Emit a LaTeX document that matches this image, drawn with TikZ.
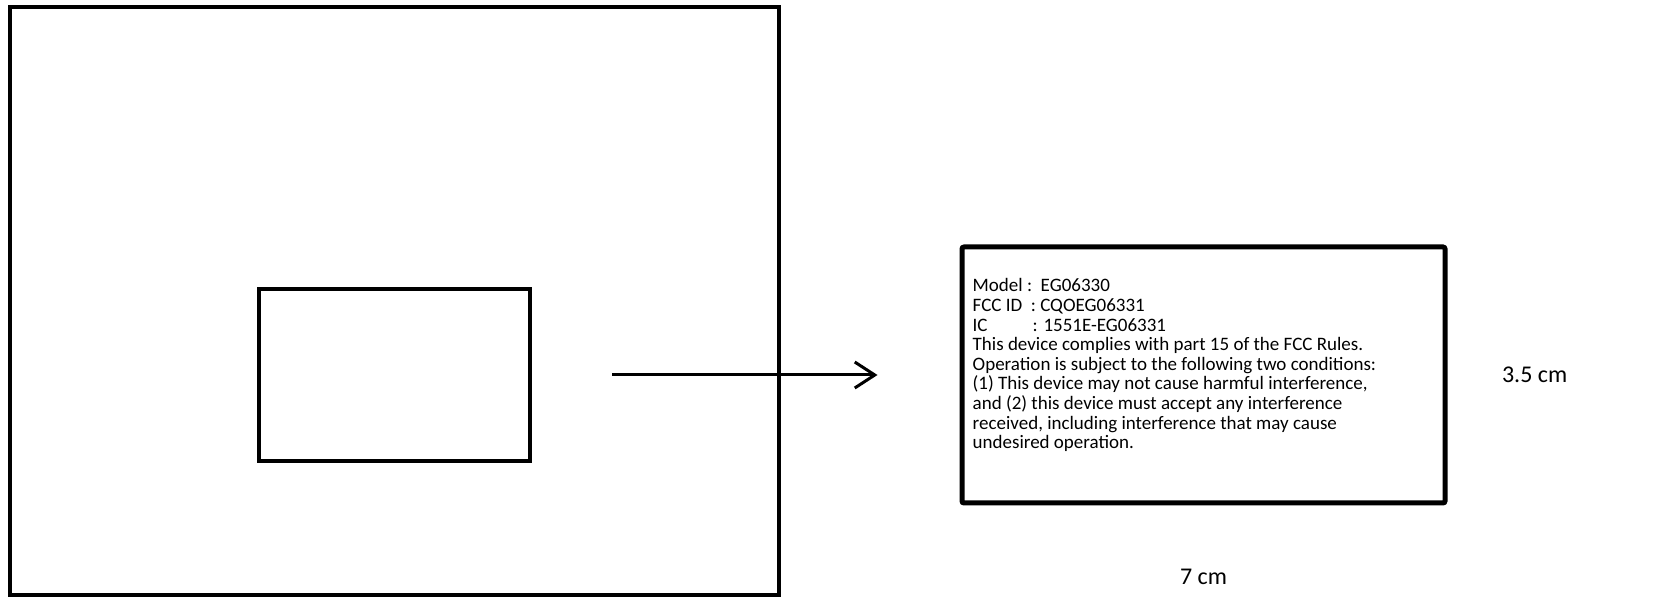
\documentclass[tikz,border=0pt]{standalone}
\usepackage{fontspec}
\setmainfont{Carlito}
\usetikzlibrary{positioning, arrows.meta}

\tikzset{
  outline/.style={draw=black, line width=4.5pt, inner sep=0pt},
  tagbox/.style={draw=black, line width=5pt, rounded corners=2pt, inner sep=0pt,
    minimum width=483pt, minimum height=256pt},
  dimtext/.style={font=\fontsize{24}{28}\selectfont},
}

\begin{document}
\begin{tikzpicture}[x=1pt,y=1pt]
  \useasboundingbox (0,0) rectangle (1660,597);

  % device and the spot where the label goes
  \node (device) [outline, minimum width=769pt, minimum height=588pt] at (394.5,296) {};
  \node (spot) [outline, line width=4pt, minimum width=271pt, minimum height=172pt] at (394.5,222) {};

  % the label, enlarged
  \node (tag) [tagbox] at (1203.5,222) {};
  \node (tagtext) [anchor=north west, align=left, inner sep=0pt,
    font=\fontsize{19}{19.6}\selectfont] at ([shift={(13pt,-34pt)}]tag.north west)
    {Model :\ \ EG06330\\
     FCC ID\ \ : CQOEG06331\\
     \makebox[60pt][l]{IC}: 1551E-EG06331\\
     This device complies with part 15 of the FCC Rules.\\
     Operation is subject to the following two conditions:\\
     (1) This device may not cause harmful interference,\\
     and (2) this device must accept any interference\\
     received, including interference that may cause\\
     undesired operation.};

  \coordinate (from) at ([xshift=80pt]spot.east);
  \coordinate (to) at ([xshift=-82pt]tag.west);
  \draw[-{Straight Barb[length=20pt,width=26pt]}, line width=3pt] (from) -- (to);

  % sizes
  \node (height) [dimtext, right=51pt of tag] {3.5 cm};
  \node (width) [dimtext, below=60pt of tag] {7 cm};
\end{tikzpicture}
\end{document}
